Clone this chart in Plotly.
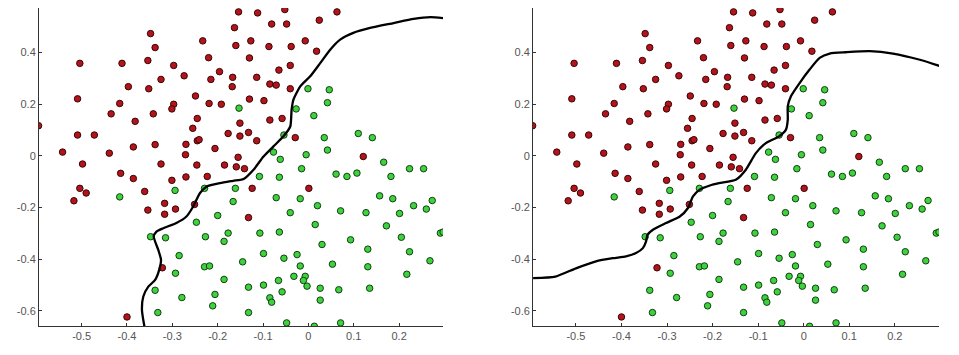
import plotly.graph_objects as go
from plotly.subplots import make_subplots

# Class 1 (red) points
red_x = [-0.595, -0.504, -0.509, -0.509, -0.472, -0.542, -0.498, -0.439, -0.435, -0.416,
         -0.411, -0.397, -0.382, -0.386, -0.414, -0.386, -0.348, -0.338, -0.354, -0.352,
         -0.325, -0.342, -0.338, -0.325, -0.297, -0.297, -0.301, -0.274, -0.270, -0.271,
         -0.301, -0.270, -0.249, -0.245, -0.255, -0.245, -0.241, -0.246, -0.223, -0.233,
         -0.220, -0.215, -0.219, -0.206, -0.196, -0.192, -0.185, -0.177, -0.167, -0.168,
         -0.163, -0.160, -0.154, -0.159, -0.155, -0.151, -0.151,
         -0.112, -0.052, 0.063, -0.081, -0.048, 0.024, -0.127, -0.087, -0.038, -0.007,
         0.018, -0.130, -0.040, -0.065, -0.114, -0.085, -0.071, -0.040, -0.130, -0.098,
         -0.085, -0.058, -0.132, -0.114, -0.029, -0.141, 0.121,
         -0.504, -0.490, -0.517, -0.361, -0.354, -0.317, -0.317, -0.293, -0.251, -0.322,
         -0.400,
         -0.124, 0.001, -0.132]
red_y = [0.116, 0.357, 0.220, 0.080, 0.080, 0.014, -0.032, 0.010, 0.162, 0.202,
         0.357, 0.267, 0.133, 0.034, -0.068, -0.088, 0.472, 0.418, 0.368, 0.259,
         0.295, 0.162, 0.043, -0.032, 0.349, 0.199, 0.181, 0.309, 0.044, 0.004,
         -0.095, -0.082, 0.231, 0.144, 0.106, 0.058, 0.062, -0.036, -0.080, 0.444,
         0.379, 0.295, 0.202, 0.028, 0.325, 0.199, -0.036, 0.086, 0.303, 0.267,
         0.495, 0.426, 0.556, -0.043, -0.006, 0.076, 0.126,
         0.552, 0.565, 0.556, 0.509, 0.509, 0.524, 0.444, 0.422, 0.422, 0.444,
         0.404, 0.378, 0.349, 0.331, 0.303, 0.277, 0.273, 0.259, 0.219, 0.213,
         0.138, 0.144, 0.090, 0.058, 0.070, -0.050, -0.003,
         -0.126, -0.144, -0.174, -0.138, -0.210, -0.184, -0.226, -0.206, -0.188, -0.433,
         -0.623,
         -0.126, -0.126, -0.239]

# Class 2 (green) points
green_x = [-0.153, -0.001, 0.046, 0.042, -0.027, 0.012, -0.054, 0.035, 0.110, 0.141,
           -0.077, 0.042, -0.005, -0.062, 0.166, -0.015, 0.223, 0.254, -0.108, -0.064,
           0.061, 0.085, 0.107, 0.182,
           -0.416, -0.294, -0.229, -0.161, -0.166, -0.247, -0.200, -0.348, -0.315, -0.227,
           -0.177, -0.186, -0.285, -0.229, -0.218, -0.293, -0.186, -0.338, -0.279, -0.206,
           -0.211, -0.332,
           -0.071, -0.018, 0.020, -0.040, 0.071, 0.127, 0.157, 0.186, 0.232, 0.273,
           0.260, 0.201, 0.015, 0.172, -0.107, -0.064, 0.093, 0.030, 0.205, 0.291,
           0.297, 0.131, 0.223, -0.099, -0.145, -0.054, -0.025, -0.018, 0.053, 0.131,
           0.268, 0.217, -0.032, -0.007, -0.011, -0.003, -0.066, -0.099, -0.132, -0.058,
           0.026, 0.067, 0.135, -0.085, -0.081, 0.026, -0.132, -0.048, 0.013, 0.071]
green_y = [0.184, 0.259, 0.255, 0.205, 0.181, 0.155, 0.080, 0.070, 0.086, 0.070,
           0.014, 0.022, 0.004, -0.014, -0.025, -0.050, -0.050, -0.050, -0.080, -0.083,
           -0.071, -0.080, -0.067, -0.080,
           -0.159, -0.134, -0.126, -0.126, -0.177, -0.257, -0.231, -0.313, -0.317, -0.313,
           -0.299, -0.331, -0.386, -0.429, -0.426, -0.454, -0.478, -0.520, -0.548, -0.536,
           -0.580, -0.606,
           -0.162, -0.166, -0.193, -0.220, -0.213, -0.220, -0.155, -0.166, -0.193, -0.173,
           -0.206, -0.223, -0.266, -0.271, -0.299, -0.295, -0.325, -0.343, -0.315, -0.299,
           -0.295, -0.361, -0.371, -0.378, -0.410, -0.396, -0.382, -0.426, -0.419, -0.429,
           -0.406, -0.458, -0.466, -0.466, -0.482, -0.504, -0.482, -0.500, -0.508, -0.526,
           -0.512, -0.518, -0.512, -0.549, -0.566, -0.558, -0.606, -0.646, -0.659, -0.646]

# Decision boundaries
left_bx = [-0.361, -0.367, -0.364, -0.353, -0.338, -0.329, -0.325, -0.331, -0.341, -0.335,
           -0.320, -0.291, -0.269, -0.254, -0.239, -0.224, -0.195, -0.166, -0.143, -0.121,
           -0.099, -0.077, -0.055, -0.040, -0.037, -0.033, -0.018, 0.004, 0.026, 0.048,
           0.070, 0.099, 0.136, 0.188, 0.232, 0.269, 0.298]
left_by = [-0.665, -0.596, -0.544, -0.506, -0.480, -0.441, -0.402, -0.364, -0.312, -0.293,
           -0.280, -0.260, -0.235, -0.196, -0.144, -0.119, -0.106, -0.097, -0.090, -0.054,
           -0.003, 0.036, 0.075, 0.113, 0.178, 0.217, 0.268, 0.307, 0.358, 0.410,
           0.449, 0.475, 0.494, 0.513, 0.529, 0.536, 0.532]

right_bx = [-0.594, -0.545, -0.500, -0.456, -0.419, -0.390, -0.368, -0.353, -0.346, -0.343,
            -0.331, -0.302, -0.272, -0.254, -0.243, -0.228, -0.206, -0.186, -0.149, -0.127,
            -0.105, -0.083, -0.054, -0.039, -0.035, -0.035, -0.028, -0.009, 0.013, 0.035,
            0.057, 0.093, 0.145, 0.196, 0.255, 0.300]
right_by = [-0.473, -0.467, -0.435, -0.408, -0.396, -0.389, -0.376, -0.357, -0.331, -0.306,
            -0.286, -0.260, -0.235, -0.202, -0.157, -0.131, -0.115, -0.106, -0.093, -0.054,
            0.010, 0.049, 0.075, 0.101, 0.139, 0.191, 0.230, 0.281, 0.333, 0.378,
            0.395, 0.400, 0.404, 0.395, 0.371, 0.346]

x_ticks = [-0.5, -0.4, -0.3, -0.2, -0.1, 0, 0.1, 0.2]
x_tick_labels = ["-0.5", "-0.4", "-0.3", "-0.2", "-0.1", "0", "0.1", "0.2"]
y_ticks = [-0.6, -0.4, -0.2, 0, 0.2, 0.4]
y_tick_labels = ["-0.6", "-0.4", "-0.2", "0", "0.2", "0.4"]

fig = make_subplots(rows=1, cols=2, horizontal_spacing=0.1)

RED = "#b3141c"
GREEN = "#3ed23e"

for col, (bx, by) in enumerate([(left_bx, left_by), (right_bx, right_by)], start=1):
    fig.add_trace(go.Scatter(x=red_x, y=red_y, mode="markers",
                             marker=dict(size=6.5, color=RED, line=dict(color="#3a0505", width=1)),
                             showlegend=False, cliponaxis=True), row=1, col=col)
    fig.add_trace(go.Scatter(x=green_x, y=green_y, mode="markers",
                             marker=dict(size=6.5, color=GREEN, line=dict(color="#134013", width=1)),
                             showlegend=False, cliponaxis=True), row=1, col=col)
    fig.add_trace(go.Scatter(x=bx, y=by, mode="lines",
                             line=dict(color="black", width=2.3, shape="spline", smoothing=0.6),
                             showlegend=False), row=1, col=col)

axis_common = dict(showgrid=False, zeroline=False, showline=True, linecolor="#333333",
                   linewidth=1, ticks="inside", ticklen=3, tickcolor="#333333",
                   tickfont=dict(family="Liberation Sans, Arial, sans-serif", size=11, color="#555555"))

fig.update_xaxes(range=[-0.594, 0.297], tickvals=x_ticks, ticktext=x_tick_labels, **axis_common)
fig.update_yaxes(range=[-0.658, 0.571], tickvals=y_ticks, ticktext=y_tick_labels, **axis_common)

# page body has an 8px margin, so the figure is sized/offset to compensate
fig.update_layout(
    width=951, height=347,
    margin=dict(l=31, r=20, t=0, b=29),
    paper_bgcolor="white", plot_bgcolor="white",
    xaxis=dict(domain=[0, 0.449]),
    xaxis2=dict(domain=[0.549, 1.0]),
)

fig.write_html("out.html")
